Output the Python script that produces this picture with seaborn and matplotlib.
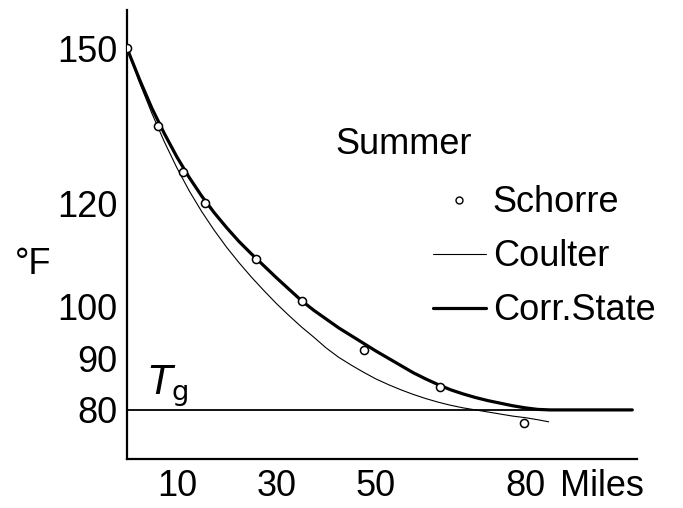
import matplotlib
matplotlib.use("Agg")
import matplotlib.pyplot as plt
import seaborn as sns
from matplotlib.lines import Line2D

# data (miles, degrees F)
schorre_miles = [0, 6.2, 11.3, 15.7, 26.0, 35.2, 47.7, 62.8, 79.7]
schorre_temp = [150, 135, 126, 120, 109.2, 101, 91.6, 84.4, 77.5]

coulter_miles = [0, 2.5, 5, 7.5, 10, 12.5, 15, 17.5, 20, 22.5, 25, 27.5, 30, 32.5, 35, 37.5,
                 40, 42.5, 45, 47.5, 50, 52.5, 55, 57.5, 60, 62.5, 65, 67.5, 70, 72.5, 75,
                 77.5, 80, 82.5, 84.7]
coulter_temp = [150, 143.4, 137.4, 131.9, 126.9, 122.4, 118.4, 114.8, 111.5, 108.5, 105.7,
                103.1, 100.6, 98.3, 96.1, 94.1, 92.0, 90.2, 88.7, 87.3, 86.0, 84.9, 83.9,
                83.0, 82.2, 81.5, 80.9, 80.4, 80.0, 79.6, 79.2, 78.8, 78.5, 78.1, 77.7]

corr_miles = [0, 2.5, 5, 7.5, 10, 12.5, 15, 17.5, 20, 22.5, 25, 27.5, 30, 32.5, 35, 37.5,
              40, 42.5, 45, 47.5, 50, 52.5, 55, 57.5, 60, 62.5, 65, 67.5, 70, 72.5, 75,
              77.5, 80, 82.5, 85, 101.5]
corr_temp = [150, 144.0, 138.4, 133.5, 129.0, 125.0, 121.4, 118.2, 115.3, 112.6, 110.2,
             107.9, 105.6, 103.4, 101.2, 99.3, 97.6, 95.9, 94.4, 92.9, 91.4, 90.0, 88.6,
             87.2, 86.0, 84.9, 83.9, 83.1, 82.4, 81.8, 81.3, 80.8, 80.4, 80.1, 80.0, 80.0]

tg = 80
yticks = [80, 90, 100, 120, 150]
xticks = [10, 30, 50, 80]

sns.set_theme(style="white")
plt.rcParams["font.family"] = ["Liberation Sans", "DejaVu Sans"]
plt.rcParams["text.color"] = "black"
plt.rcParams["xtick.color"] = "black"
plt.rcParams["ytick.color"] = "black"
fs = 26

fig = plt.figure(figsize=(6.83, 5.08), dpi=100)
ax = fig.add_axes([0.186, 0.0965, 0.747, 0.8835])

ax.axhline(tg, xmin=0, xmax=101.5 / 102.5, color="black", lw=1.3)
sns.lineplot(x=coulter_miles, y=coulter_temp, ax=ax, color="black", lw=0.8, sort=False, estimator=None)
sns.lineplot(x=corr_miles, y=corr_temp, ax=ax, color="black", lw=2.3, sort=False, estimator=None)
sns.scatterplot(x=schorre_miles, y=schorre_temp, ax=ax, marker="o", s=34,
                facecolor="white", edgecolor="black", linewidth=1.1, zorder=5)

ax.set_xlim(0, 102.5)
ax.set_ylim(70.5, 157.4)
ax.set_xticks(xticks)
ax.set_yticks(yticks)
ax.tick_params(direction="in", length=3, width=1, colors="black", labelsize=fs, pad=7)
for s in ["top", "right"]:
    ax.spines[s].set_visible(False)
for s in ["left", "bottom"]:
    ax.spines[s].set_color("black")
    ax.spines[s].set_linewidth(1.6)

handles = [
    Line2D([], [], marker="o", ls="none", ms=5, mfc="white", mec="black", mew=1),
    Line2D([], [], color="black", lw=0.8),
    Line2D([], [], color="black", lw=2.3),
]
ax.legend(handles, ["Schorre", "Coulter", "Corr.State"], frameon=False, fontsize=fs,
          loc="upper left", bbox_to_anchor=(0.6, 0.61), handlelength=1.45,
          handletextpad=0.2, labelspacing=0.53, borderaxespad=0, borderpad=0)

fig.text(335 / 683, 1 - 145 / 508, "Summer", fontsize=fs, va="center", ha="left")
fig.text(15 / 683, 1 - 265 / 508, "°F", fontsize=fs, va="center", ha="left")
fig.text(560 / 683, 1 - 486 / 508, "Miles", fontsize=fs, va="center", ha="left")
ax.text(4.3, 82.9, r"$T_{\rm g}$", fontsize=28, ha="left", va="baseline")

fig.savefig("out.png", dpi=100)
